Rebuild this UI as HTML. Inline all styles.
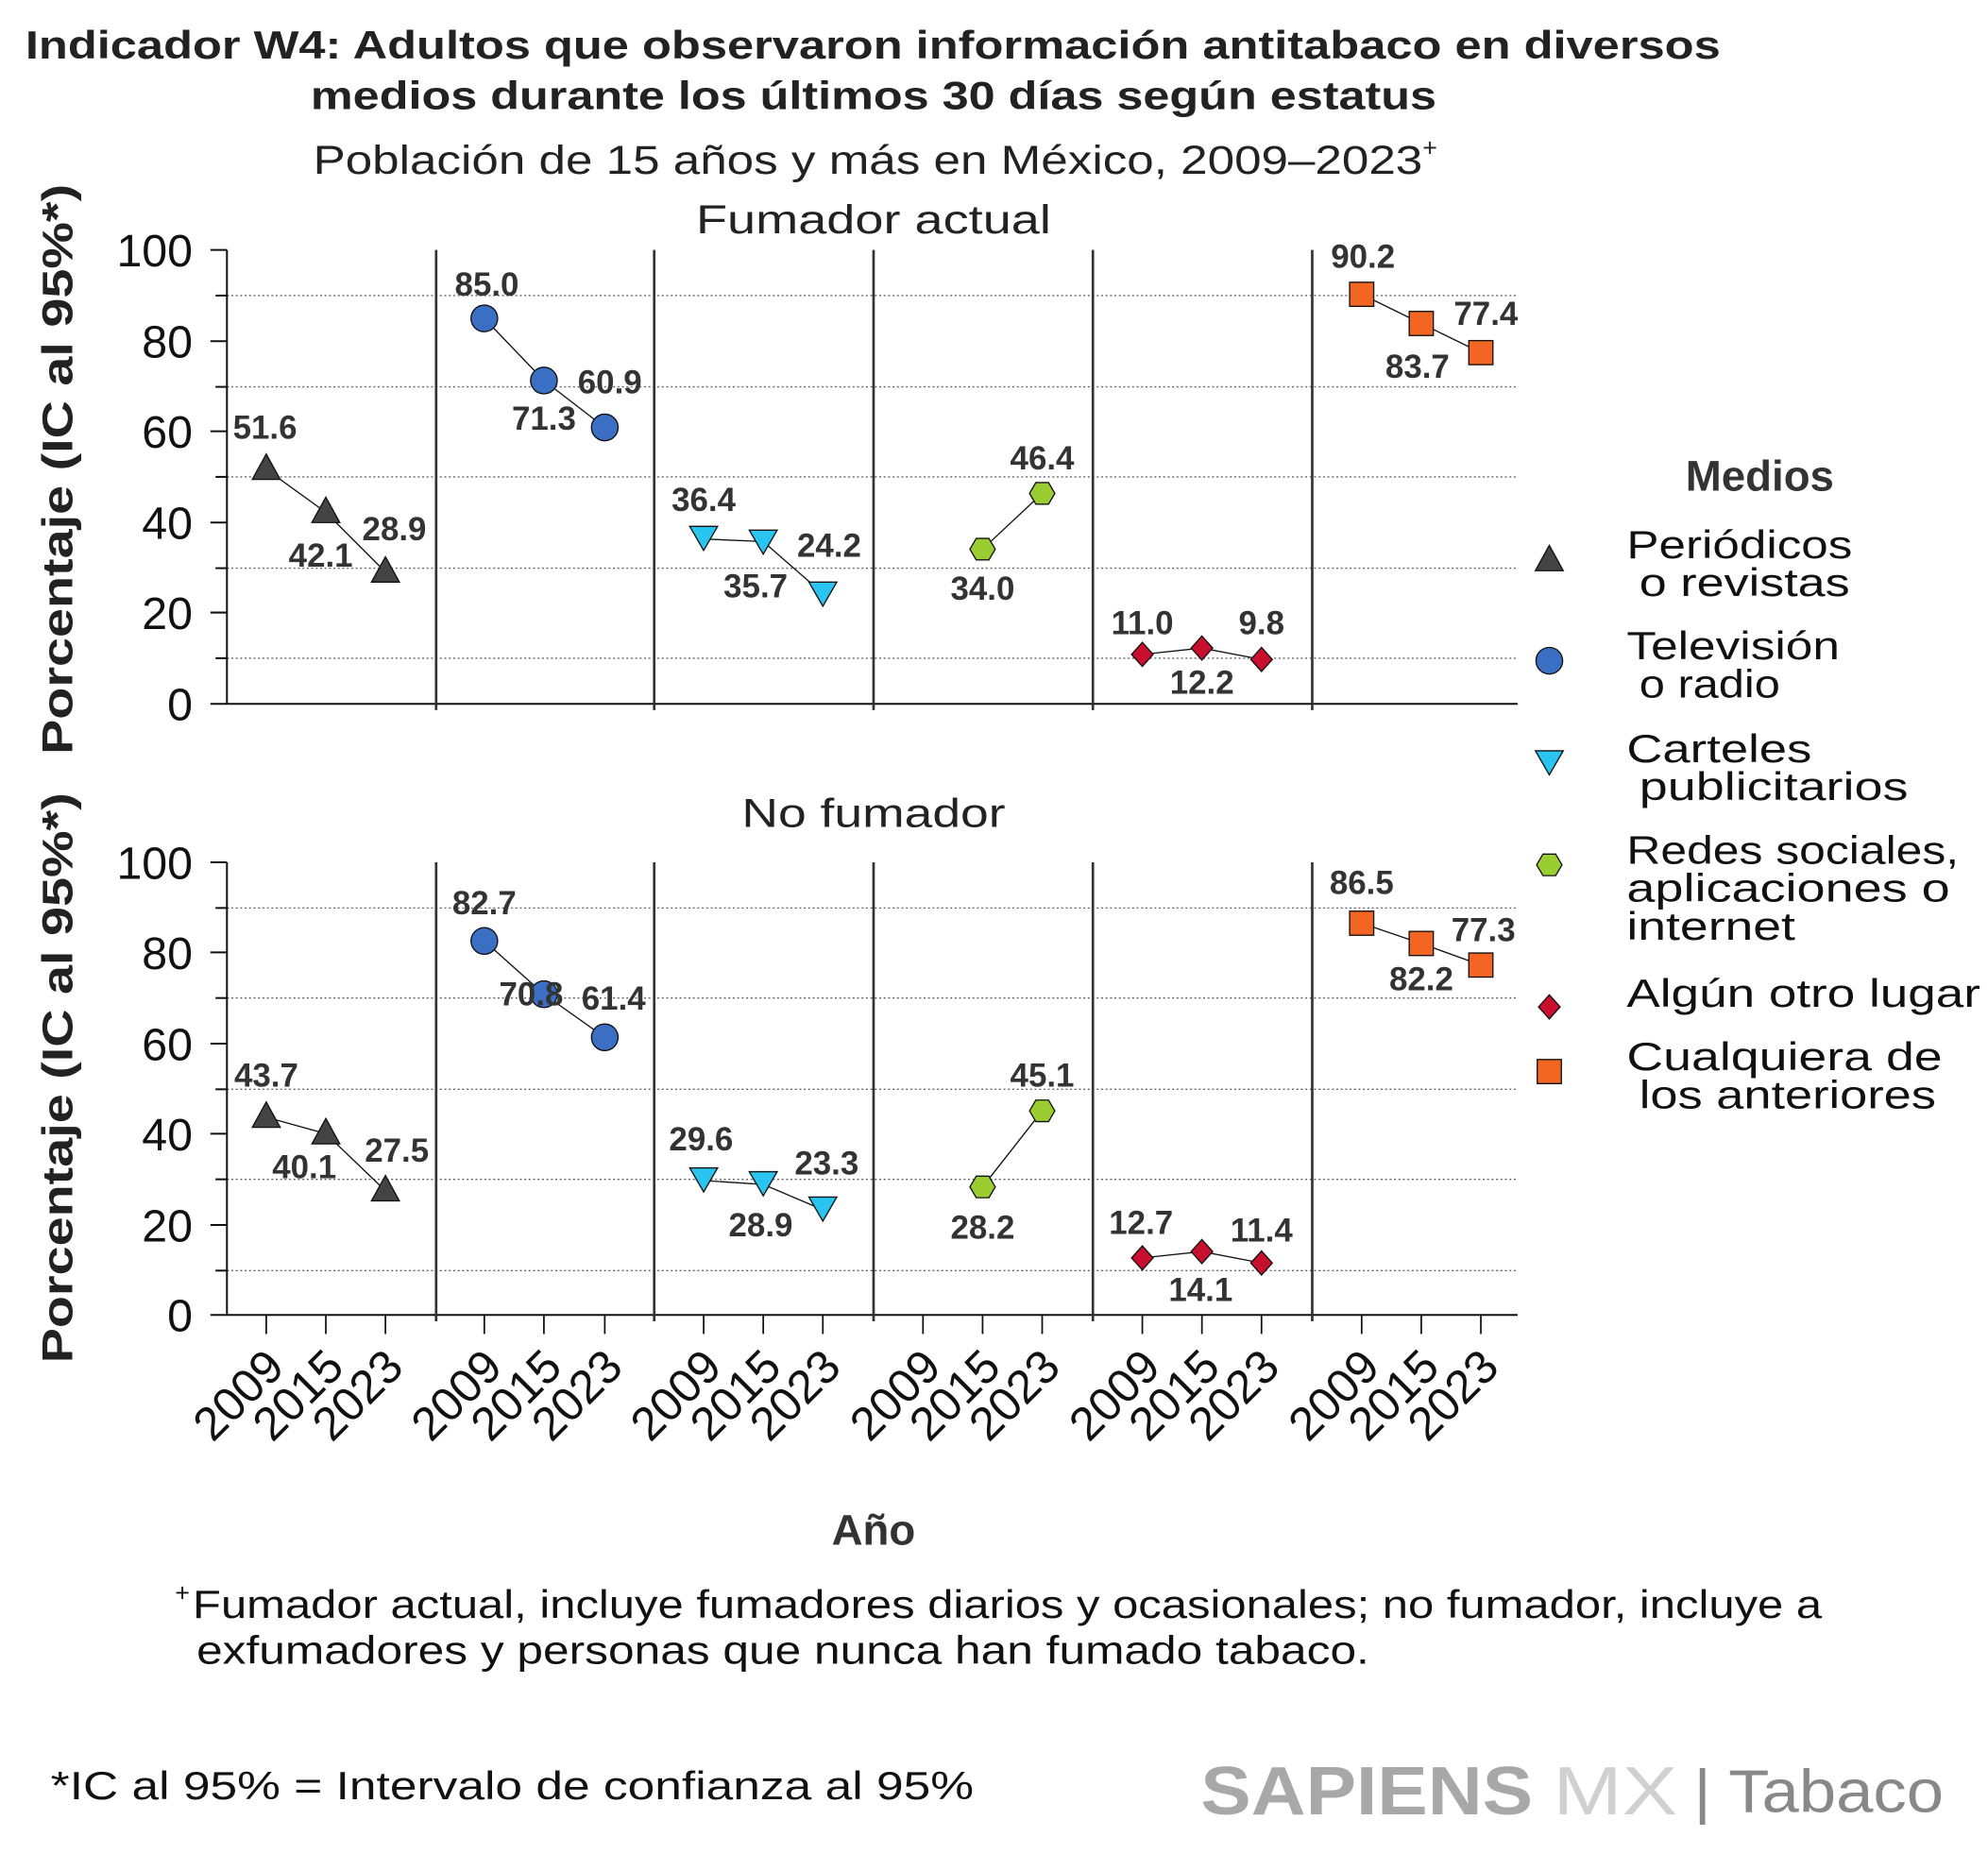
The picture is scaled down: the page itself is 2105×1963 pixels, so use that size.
<!DOCTYPE html>
<html><head><meta charset="utf-8"><style>
html,body{margin:0;padding:0;background:#fff}
svg{display:block}
text{font-family:"Liberation Sans",sans-serif}
.t{font-weight:bold;font-size:31px;fill:#222}
.s{font-size:32px;fill:#222}
.yl{font-size:36px;fill:#111}
.lb{font-weight:bold;font-size:26px;fill:#333}
.xl{font-size:37px;fill:#111}
.lg{font-size:31px;fill:#111}
.g{stroke:#666;stroke-width:1;stroke-dasharray:1.5 2}
.d{stroke:#333;stroke-width:2}
.ln{stroke:#111;stroke-width:1;fill:none}
</style></head><body>
<svg width="2105" height="1963" viewBox="0 0 1568 1462" xmlns="http://www.w3.org/2000/svg">
<defs>
<polygon id="tri" points="0,-12 11,8 -11,8" fill="#444" stroke="#111" stroke-width="1"/>
<circle id="cir" r="10.5" fill="#3a6fc4" stroke="#111" stroke-width="1"/>
<polygon id="dtr" points="-11,-8 11,-8 0,11" fill="#29c5f0" stroke="#111" stroke-width="1"/>
<polygon id="hex" points="-10,0 -5,-8.5 5,-8.5 10,0 5,8.5 -5,8.5" fill="#9acd32" stroke="#111" stroke-width="1"/>
<polygon id="dia" points="0,-9.5 8.5,0 0,9.5 -8.5,0" fill="#c8102e" stroke="#111" stroke-width="1"/>
<rect id="sq" x="-9.5" y="-9.5" width="19" height="19" fill="#f26522" stroke="#111" stroke-width="1"/>
</defs>
<text x="20" y="46" class="t" textLength="1337" lengthAdjust="spacingAndGlyphs">Indicador W4: Adultos que observaron información antitabaco en diversos</text>
<text x="245" y="86" class="t" textLength="888" lengthAdjust="spacingAndGlyphs">medios durante los últimos 30 días según estatus</text>
<text x="247" y="137" class="s"><tspan textLength="875" lengthAdjust="spacingAndGlyphs">Población de 15 años y más en México, 2009–2023</tspan><tspan dy="-14" font-size="20">+</tspan></text>
<text x="549" y="184" class="s" textLength="280" lengthAdjust="spacingAndGlyphs">Fumador actual</text>
<text x="585" y="652" class="s" textLength="208" lengthAdjust="spacingAndGlyphs">No fumador</text>
<text transform="translate(57,370) rotate(-90)" text-anchor="middle" font-weight="bold" font-size="34" fill="#222" textLength="450" lengthAdjust="spacingAndGlyphs">Porcentaje (IC al 95%*)</text>
<text transform="translate(57,850) rotate(-90)" text-anchor="middle" font-weight="bold" font-size="34" fill="#222" textLength="450" lengthAdjust="spacingAndGlyphs">Porcentaje (IC al 95%*)</text>

<!-- TOP PANEL -->
<g class="g">
<line x1="179" y1="233" x2="1197" y2="233"/><line x1="179" y1="305" x2="1197" y2="305"/><line x1="179" y1="376" x2="1197" y2="376"/><line x1="179" y1="448" x2="1197" y2="448"/><line x1="179" y1="519" x2="1197" y2="519"/>
</g>
<line x1="179" y1="197" x2="179" y2="555" stroke="#111" stroke-width="1.5"/>
<line x1="179" y1="555" x2="1197" y2="555" stroke="#111" stroke-width="1.5"/>
<g stroke="#111" stroke-width="1.5">
<line x1="166" y1="197" x2="179" y2="197"/><line x1="166" y1="269" x2="179" y2="269"/><line x1="166" y1="340" x2="179" y2="340"/><line x1="166" y1="412" x2="179" y2="412"/><line x1="166" y1="483" x2="179" y2="483"/><line x1="166" y1="555" x2="179" y2="555"/>
<line x1="170" y1="233" x2="179" y2="233"/><line x1="170" y1="305" x2="179" y2="305"/><line x1="170" y1="376" x2="179" y2="376"/><line x1="170" y1="448" x2="179" y2="448"/><line x1="170" y1="519" x2="179" y2="519"/>
</g>
<g class="yl" text-anchor="end">
<text x="152" y="210">100</text><text x="152" y="282">80</text><text x="152" y="353">60</text><text x="152" y="425">40</text><text x="152" y="496">20</text><text x="152" y="568">0</text>
</g>
<g class="d"><line x1="344" y1="197" x2="344" y2="560"/><line x1="516" y1="197" x2="516" y2="560"/><line x1="689" y1="197" x2="689" y2="560"/><line x1="862" y1="197" x2="862" y2="560"/><line x1="1035" y1="197" x2="1035" y2="560"/></g>
<g class="ln">
<polyline points="210,370 257,404 304,451"/>
<polyline points="382,251 429,300 477,337"/>
<polyline points="555,425 602,427 649,468"/>
<polyline points="775,433 822,389"/>
<polyline points="901,516 948,511 995,520"/>
<polyline points="1074,232 1121,255 1168,278"/>
</g>
<use href="#tri" x="210" y="370"/><use href="#tri" x="257" y="404"/><use href="#tri" x="304" y="451"/>
<use href="#cir" x="382" y="251"/><use href="#cir" x="429" y="300"/><use href="#cir" x="477" y="337"/>
<use href="#dtr" x="555" y="423"/><use href="#dtr" x="602" y="426"/><use href="#dtr" x="649" y="467"/>
<use href="#hex" x="775" y="433"/><use href="#hex" x="822" y="389"/>
<use href="#dia" x="901" y="516"/><use href="#dia" x="948" y="511"/><use href="#dia" x="995" y="520"/>
<use href="#sq" x="1074" y="232"/><use href="#sq" x="1121" y="255"/><use href="#sq" x="1168" y="278"/>
<g class="lb" text-anchor="middle">
<text x="209" y="346">51.6</text><text x="253" y="447">42.1</text><text x="311" y="426">28.9</text>
<text x="384" y="233">85.0</text><text x="429" y="339">71.3</text><text x="481" y="310">60.9</text>
<text x="555" y="403">36.4</text><text x="596" y="471">35.7</text><text x="654" y="439">24.2</text>
<text x="775" y="473">34.0</text><text x="822" y="370">46.4</text>
<text x="901" y="500">11.0</text><text x="948" y="547">12.2</text><text x="995" y="500">9.8</text>
<text x="1075" y="211">90.2</text><text x="1118" y="298">83.7</text><text x="1172" y="256">77.4</text>
</g>

<!-- BOTTOM PANEL -->
<g class="g">
<line x1="179" y1="716" x2="1197" y2="716"/><line x1="179" y1="787" x2="1197" y2="787"/><line x1="179" y1="859" x2="1197" y2="859"/><line x1="179" y1="930" x2="1197" y2="930"/><line x1="179" y1="1002" x2="1197" y2="1002"/>
</g>
<line x1="179" y1="680" x2="179" y2="1037" stroke="#111" stroke-width="1.5"/>
<line x1="179" y1="1037" x2="1197" y2="1037" stroke="#111" stroke-width="1.5"/>
<g stroke="#111" stroke-width="1.5">
<line x1="166" y1="680" x2="179" y2="680"/><line x1="166" y1="751" x2="179" y2="751"/><line x1="166" y1="823" x2="179" y2="823"/><line x1="166" y1="894" x2="179" y2="894"/><line x1="166" y1="966" x2="179" y2="966"/><line x1="166" y1="1037" x2="179" y2="1037"/>
<line x1="170" y1="716" x2="179" y2="716"/><line x1="170" y1="787" x2="179" y2="787"/><line x1="170" y1="859" x2="179" y2="859"/><line x1="170" y1="930" x2="179" y2="930"/><line x1="170" y1="1002" x2="179" y2="1002"/>
</g>
<g stroke="#111" stroke-width="1.3">
<line x1="210" y1="1037" x2="210" y2="1052"/><line x1="257" y1="1037" x2="257" y2="1052"/><line x1="304" y1="1037" x2="304" y2="1052"/>
<line x1="382" y1="1037" x2="382" y2="1052"/><line x1="429" y1="1037" x2="429" y2="1052"/><line x1="477" y1="1037" x2="477" y2="1052"/>
<line x1="555" y1="1037" x2="555" y2="1052"/><line x1="602" y1="1037" x2="602" y2="1052"/><line x1="649" y1="1037" x2="649" y2="1052"/>
<line x1="728" y1="1037" x2="728" y2="1052"/><line x1="775" y1="1037" x2="775" y2="1052"/><line x1="822" y1="1037" x2="822" y2="1052"/>
<line x1="901" y1="1037" x2="901" y2="1052"/><line x1="948" y1="1037" x2="948" y2="1052"/><line x1="995" y1="1037" x2="995" y2="1052"/>
<line x1="1074" y1="1037" x2="1074" y2="1052"/><line x1="1121" y1="1037" x2="1121" y2="1052"/><line x1="1168" y1="1037" x2="1168" y2="1052"/>
</g>
<g class="yl" text-anchor="end">
<text x="152" y="693">100</text><text x="152" y="764">80</text><text x="152" y="836">60</text><text x="152" y="907">40</text><text x="152" y="979">20</text><text x="152" y="1050">0</text>
</g>
<g class="d"><line x1="344" y1="680" x2="344" y2="1042"/><line x1="516" y1="680" x2="516" y2="1042"/><line x1="689" y1="680" x2="689" y2="1042"/><line x1="862" y1="680" x2="862" y2="1042"/><line x1="1035" y1="680" x2="1035" y2="1042"/></g>
<g class="ln">
<polyline points="210,881 257,894 304,939"/>
<polyline points="382,742 429,784 477,818"/>
<polyline points="555,931 602,934 649,954"/>
<polyline points="775,936 822,876"/>
<polyline points="901,992 948,987 995,996"/>
<polyline points="1074,728 1121,744 1168,761"/>
</g>
<use href="#tri" x="210" y="881"/><use href="#tri" x="257" y="894"/><use href="#tri" x="304" y="939"/>
<use href="#cir" x="382" y="742"/><use href="#cir" x="429" y="784"/><use href="#cir" x="477" y="818"/>
<use href="#dtr" x="555" y="929"/><use href="#dtr" x="602" y="932"/><use href="#dtr" x="649" y="952"/>
<use href="#hex" x="775" y="936"/><use href="#hex" x="822" y="876"/>
<use href="#dia" x="901" y="992"/><use href="#dia" x="948" y="987"/><use href="#dia" x="995" y="996"/>
<use href="#sq" x="1074" y="728"/><use href="#sq" x="1121" y="744"/><use href="#sq" x="1168" y="761"/>
<g class="lb" text-anchor="middle">
<text x="210" y="857">43.7</text><text x="240" y="929">40.1</text><text x="313" y="916">27.5</text>
<text x="382" y="721">82.7</text><text x="419" y="793">70.8</text><text x="484" y="796">61.4</text>
<text x="553" y="907">29.6</text><text x="600" y="975">28.9</text><text x="652" y="926">23.3</text>
<text x="775" y="977">28.2</text><text x="822" y="857">45.1</text>
<text x="900" y="973">12.7</text><text x="947" y="1026">14.1</text><text x="995" y="979">11.4</text>
<text x="1074" y="705">86.5</text><text x="1121" y="781">82.2</text><text x="1170" y="742">77.3</text>
</g>

<!-- X tick labels -->
<g class="xl" text-anchor="end">
<text transform="translate(226,1080) rotate(-45)">2009</text><text transform="translate(273,1080) rotate(-45)">2015</text><text transform="translate(320,1080) rotate(-45)">2023</text>
<text transform="translate(398,1080) rotate(-45)">2009</text><text transform="translate(445,1080) rotate(-45)">2015</text><text transform="translate(493,1080) rotate(-45)">2023</text>
<text transform="translate(571,1080) rotate(-45)">2009</text><text transform="translate(618,1080) rotate(-45)">2015</text><text transform="translate(665,1080) rotate(-45)">2023</text>
<text transform="translate(744,1080) rotate(-45)">2009</text><text transform="translate(791,1080) rotate(-45)">2015</text><text transform="translate(838,1080) rotate(-45)">2023</text>
<text transform="translate(917,1080) rotate(-45)">2009</text><text transform="translate(964,1080) rotate(-45)">2015</text><text transform="translate(1011,1080) rotate(-45)">2023</text>
<text transform="translate(1090,1080) rotate(-45)">2009</text><text transform="translate(1137,1080) rotate(-45)">2015</text><text transform="translate(1184,1080) rotate(-45)">2023</text>
</g>
<text x="689" y="1218" text-anchor="middle" font-weight="bold" font-size="34" fill="#333">Año</text>

<!-- Legend -->
<text x="1388" y="387" text-anchor="middle" font-weight="bold" font-size="34" fill="#333">Medios</text>
<use href="#tri" x="1222" y="442"/><use href="#cir" x="1222" y="521"/><use href="#dtr" x="1222" y="600"/>
<use href="#hex" x="1222" y="682"/><use href="#dia" x="1222" y="794"/><use href="#sq" x="1222" y="845"/>
<g class="lg">
<text x="1283" y="440" textLength="178" lengthAdjust="spacingAndGlyphs">Periódicos</text><text x="1293" y="470" textLength="166" lengthAdjust="spacingAndGlyphs">o revistas</text>
<text x="1283" y="520" textLength="168" lengthAdjust="spacingAndGlyphs">Televisión</text><text x="1293" y="550" textLength="111" lengthAdjust="spacingAndGlyphs">o radio</text>
<text x="1283" y="601" textLength="146" lengthAdjust="spacingAndGlyphs">Carteles</text><text x="1293" y="631" textLength="212" lengthAdjust="spacingAndGlyphs">publicitarios</text>
<text x="1283" y="681" textLength="262" lengthAdjust="spacingAndGlyphs">Redes sociales,</text><text x="1283" y="711" textLength="255" lengthAdjust="spacingAndGlyphs">aplicaciones o</text><text x="1283" y="741" textLength="133" lengthAdjust="spacingAndGlyphs">internet</text>
<text x="1283" y="794" textLength="279" lengthAdjust="spacingAndGlyphs">Algún otro lugar</text>
<text x="1283" y="844" textLength="249" lengthAdjust="spacingAndGlyphs">Cualquiera de</text><text x="1293" y="874" textLength="234" lengthAdjust="spacingAndGlyphs">los anteriores</text>
</g>

<!-- Footnotes -->
<g font-size="31" fill="#111">
<text x="138" y="1263" font-size="20">+</text>
<text x="152" y="1276" textLength="1285" lengthAdjust="spacingAndGlyphs">Fumador actual, incluye fumadores diarios y ocasionales; no fumador, incluye a</text>
<text x="155" y="1312" textLength="925" lengthAdjust="spacingAndGlyphs">exfumadores y personas que nunca han fumado tabaco.</text>
<text x="40" y="1419" textLength="728" lengthAdjust="spacingAndGlyphs">*IC al 95% = Intervalo de confianza al 95%</text>
</g>
<text x="947" y="1431" font-size="54" font-weight="bold" fill="#a8a8a8" textLength="262" lengthAdjust="spacingAndGlyphs">SAPIENS</text>
<text x="1225" y="1431" font-size="54" fill="#d0d0d0" textLength="98" lengthAdjust="spacingAndGlyphs">MX</text>
<text x="1336" y="1429" font-size="48" fill="#888" textLength="197" lengthAdjust="spacingAndGlyphs">| Tabaco</text>
</svg>
</body></html>
